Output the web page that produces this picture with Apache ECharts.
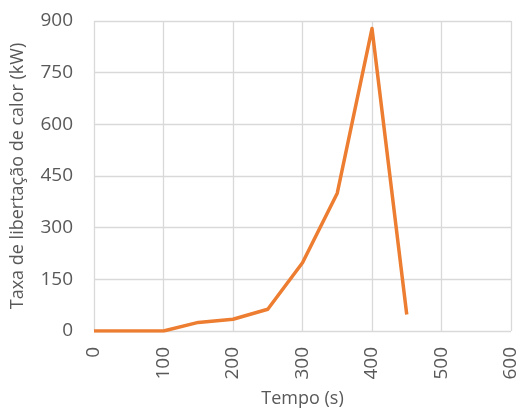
<!DOCTYPE html>
<html>
<head>
<meta charset="utf-8">
<script src="https://cdn.jsdelivr.net/npm/echarts@6/dist/echarts.min.js"></script>
<style>html,body{margin:0;padding:0;background:#fff}#c{width:520px;height:409px}</style>
</head>
<body>
<div id="c"></div>
<script>
const times = [0, 50, 100, 150, 200, 250, 300, 350, 400, 450];
const hrr = [0, 0, 0, 25, 34, 63, 198, 400, 878, 48];
const xTitle = 'Tempo (s)';
const yTitle = 'Taxa de libertação de calor (kW)';

const chart = echarts.init(document.getElementById('c'), null, {renderer: 'canvas'});
const font = '"Open Sans", sans-serif';
chart.setOption({
  animation: false,
  grid: {left: 94, right: 9, top: 21, bottom: 78, containLabel: false, outerBoundsMode: 'none'},
  xAxis: {
    type: 'value', min: 0, max: 600, interval: 100,
    name: xTitle, nameLocation: 'middle', nameGap: 59,
    nameTextStyle: {color: '#595959', fontSize: 18, fontFamily: font},
    axisLine: {show: false}, axisTick: {show: false},
    axisLabel: {rotate: 90, color: '#595959', fontSize: 19, fontFamily: font, margin: 16},
    splitLine: {show: true, lineStyle: {color: '#d9d9d9', width: 1.3}}
  },
  yAxis: {
    type: 'value', min: 0, max: 900, interval: 150,
    name: yTitle, nameLocation: 'middle', nameGap: 67, nameRotate: 90,
    nameTextStyle: {color: '#595959', fontSize: 18, fontFamily: font},
    axisLine: {show: false}, axisTick: {show: false},
    axisLabel: {color: '#595959', fontSize: 19, fontFamily: font, margin: 21},
    splitLine: {show: true, lineStyle: {color: '#d9d9d9', width: 1.3}}
  },
  series: [{
    type: 'line',
    data: times.map((t, i) => [t, hrr[i]]),
    showSymbol: false,
    lineStyle: {color: '#ED7D31', width: 3.5, join: 'round'},
    itemStyle: {color: '#ED7D31'}
  }]
});
</script>
</body>
</html>
